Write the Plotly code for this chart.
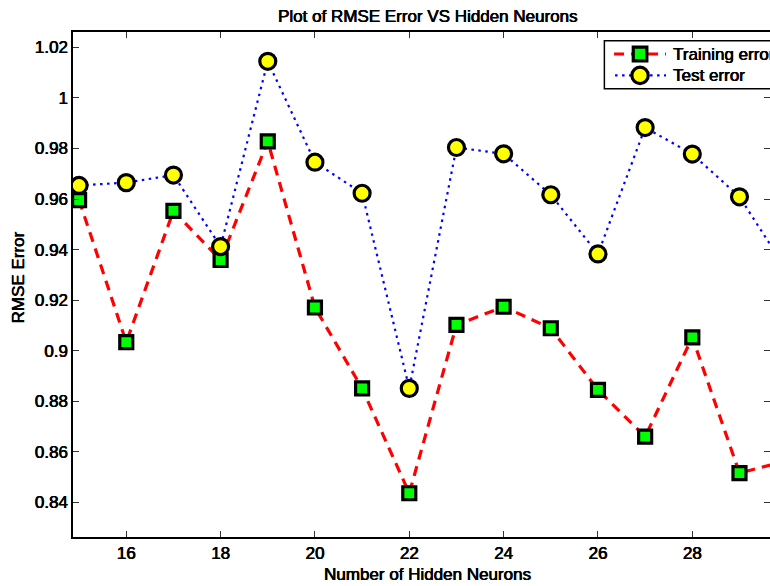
import plotly.graph_objects as go

# RMSE of the network against the number of hidden neurons
neurons = list(range(15, 31))
training_error = [0.9596, 0.9034, 0.9553, 0.9359, 0.9828, 0.9171, 0.8851, 0.8436,
                  0.9102, 0.9174, 0.9089, 0.8845, 0.8660, 0.9053, 0.8516, 0.8564]
test_error = [0.9654, 0.9665, 0.9695, 0.9412, 1.0145, 0.9746, 0.9623, 0.8851,
              0.9804, 0.9779, 0.9617, 0.9383, 0.9883, 0.9778, 0.9609, 0.9319]

x_ticks = [16, 18, 20, 22, 24, 26, 28, 30]
y_ticks = [0.84, 0.86, 0.88, 0.90, 0.92, 0.94, 0.96, 0.98, 1.00, 1.02]
y_tick_text = ["0.84", "0.86", "0.88", "0.9", "0.92", "0.94", "0.96", "0.98", "1", "1.02"]

FONT = "Liberation Sans, Arial, Helvetica, sans-serif"
SHADOW = "0.45px 0 0 black, -0.2px 0 0 black"

W, H = 770, 586
L, T, B = 72.7, 32.3, 49
PW, PH = W - L, H - T - B

RED, BLUE, GREEN, YELLOW = "#ff0000", "#0000ff", "#00ff00", "#ffff00"
RED_LINE = dict(color=RED, width=3.2, dash="10px,7px")
BLUE_LINE = dict(color=BLUE, width=2.2, dash="2.5px,4.5px")


def px(x):
    return (x - L) / PW


def py(y):
    return (H - B - y) / PH


fig = go.Figure()
fig.add_trace(go.Scatter(
    x=neurons, y=training_error, name="Training error", mode="lines+markers",
    line=RED_LINE,
    marker=dict(symbol="square", size=13, color=GREEN, line=dict(color="black", width=3.2)),
))
fig.add_trace(go.Scatter(
    x=neurons, y=test_error, name="Test error", mode="lines+markers",
    line=BLUE_LINE,
    marker=dict(symbol="circle", size=16, color=YELLOW, line=dict(color="black", width=3.2)),
))

axis_common = dict(
    showgrid=False, zeroline=False, showline=True, linecolor="black", linewidth=1.5,
    ticks="inside", ticklen=6, tickwidth=1, tickcolor="#333333", mirror="ticks",
    tickfont=dict(family=FONT, size=17, color="black", shadow=SHADOW),
)

fig.update_xaxes(range=[14.871, 29.647], tickvals=x_ticks, ticktext=[str(v) for v in x_ticks],
                 **axis_common)
fig.update_yaxes(range=[0.8263, 1.0261], tickvals=y_ticks, ticktext=y_tick_text,
                 **axis_common)

label_font = dict(family=FONT, size=17, color="black", shadow=SHADOW)
fig.add_annotation(text="Plot of RMSE Error VS Hidden Neurons", xref="paper", yref="paper",
                   x=px(428), y=py(16.5), xanchor="center", yanchor="middle",
                   showarrow=False, font=label_font)
fig.add_annotation(text="Number of Hidden Neurons", xref="paper", yref="paper",
                   x=px(427), y=py(574), xanchor="center", yanchor="middle",
                   showarrow=False, font=label_font)
fig.add_annotation(text="RMSE Error", xref="paper", yref="paper",
                   x=px(18.3), y=py(278), xanchor="center", yanchor="middle",
                   textangle=-90, showarrow=False, font=label_font)

# Legend box in the upper right corner
box_left, box_top, box_bottom = 604.3, 41, 89
row1, row2 = 54.3, 75.7
sample_l, sample_r, sample_c = 614, 666, 640
shapes = [
    dict(type="rect", xref="paper", yref="paper", x0=px(box_left), x1=px(W + 40),
         y0=py(box_bottom), y1=py(box_top), fillcolor="white",
         line=dict(color="black", width=1.5), layer="above"),
    dict(type="line", xref="paper", yref="paper", x0=px(sample_l), x1=px(sample_r),
         y0=py(row1), y1=py(row1), line=RED_LINE, layer="above"),
    dict(type="line", xref="paper", yref="paper", x0=px(sample_l + 1), x1=px(sample_r),
         y0=py(row2), y1=py(row2), line=BLUE_LINE, layer="above"),
    dict(type="rect", xref="paper", yref="paper", x0=px(sample_c - 6.8), x1=px(sample_c + 6.8),
         y0=py(row1 + 6.8), y1=py(row1 - 6.8), fillcolor=GREEN,
         line=dict(color="black", width=3.2), layer="above"),
    dict(type="circle", xref="paper", yref="paper", x0=px(sample_c - 8.2), x1=px(sample_c + 8.2),
         y0=py(row2 + 8.2), y1=py(row2 - 8.2), fillcolor=YELLOW,
         line=dict(color="black", width=3.2), layer="above"),
]
for label, row in [("Training error", row1), ("Test error", row2)]:
    fig.add_annotation(text=label, xref="paper", yref="paper", x=px(671), y=py(row),
                       xanchor="left", yanchor="middle", showarrow=False, font=label_font)

fig.update_layout(
    width=W, height=H,
    margin=dict(l=L, r=0, t=T, b=B, autoexpand=False),
    paper_bgcolor="white", plot_bgcolor="white",
    showlegend=False,
    shapes=shapes,
)

fig.write_html("out.html")
